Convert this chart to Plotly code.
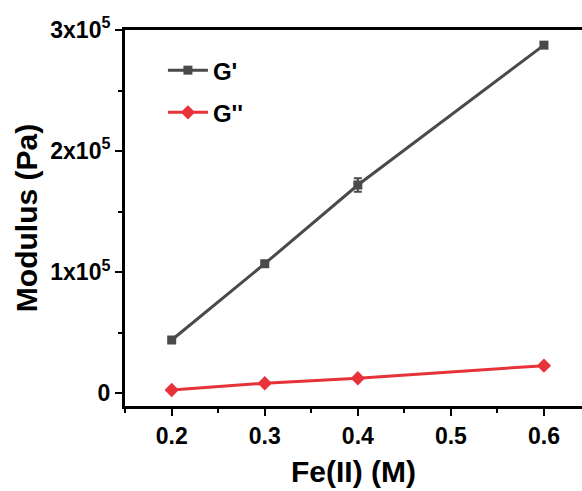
import plotly.graph_objects as go

fe = [0.2, 0.3, 0.4, 0.6]
g_prime = [44000, 107000, 172000, 287500]
g_prime_err = [1200, 1500, 5500, 1500]
g_dprime = [2700, 8300, 12400, 22800]
g_dprime_err = [500, 500, 600, 600]

y_tickvals = [0, 100000, 200000, 300000]
y_ticktext = ["0", "1x10<sup>5</sup>", "2x10<sup>5</sup>", "3x10<sup>5</sup>"]
x_tickvals = [0.2, 0.3, 0.4, 0.5, 0.6]
x_ticktext = ["0.2", "0.3", "0.4", "0.5", "0.6"]

fig = go.Figure()
fig.add_trace(go.Scatter(
    x=fe, y=g_prime, name="G'", mode="lines+markers", legendgroup="a",
    line=dict(color="#4a4a4a", width=3),
    marker=dict(symbol="square", size=9, color="#4a4a4a"),
    error_y=dict(type="data", array=g_prime_err, color="#4a4a4a", thickness=2, width=4),
))
fig.add_trace(go.Scatter(
    x=fe, y=g_dprime, name="G''", mode="lines+markers", legendgroup="b",
    line=dict(color="#e8323a", width=3),
    marker=dict(symbol="diamond", size=11, color="#e8323a"),
    error_y=dict(type="data", array=g_dprime_err, color="#e8323a", thickness=2, width=4),
))

font_family = "Liberation Sans, Arial, sans-serif"
fig.update_layout(
    width=582, height=491,
    margin=dict(l=125, r=0, t=30, b=85),
    plot_bgcolor="white", paper_bgcolor="white",
    font=dict(family=font_family, color="black"),
    showlegend=True,
    legend=dict(x=0.083, y=0.952, xanchor="left", yanchor="top",
                font=dict(size=24, family=font_family, color="black", weight="bold"),
                bgcolor="rgba(0,0,0,0)", itemwidth=40, tracegroupgap=8),
    xaxis=dict(
        range=[0.1498, 0.6409], showline=True, linecolor="black", linewidth=3,
        mirror=True, ticks="outside", ticklen=7, tickwidth=2, tickcolor="black",
        tickvals=x_tickvals, ticktext=x_ticktext, showgrid=False, zeroline=False,
        tickfont=dict(size=23, weight="bold"),
        minor=dict(ticks="outside", ticklen=4, tickwidth=2, tickcolor="black", dtick=0.05, tick0=0.15),
        title=dict(text="Fe(II) (M)", font=dict(size=30, weight="bold"), standoff=14),
    ),
    yaxis=dict(
        range=[-10500, 300000], showline=True, linecolor="black", linewidth=3,
        mirror=False, ticks="outside", ticklen=7, tickwidth=2, tickcolor="black",
        tickvals=y_tickvals, ticktext=y_ticktext, showgrid=False, zeroline=False,
        tickfont=dict(size=23, weight="bold"),
        minor=dict(ticks="outside", ticklen=4, tickwidth=2, tickcolor="black", dtick=50000, tick0=0),
        title=dict(text="Modulus (Pa)", font=dict(size=30, weight="bold"), standoff=4),
    ),
)
fig.write_html("out.html")
